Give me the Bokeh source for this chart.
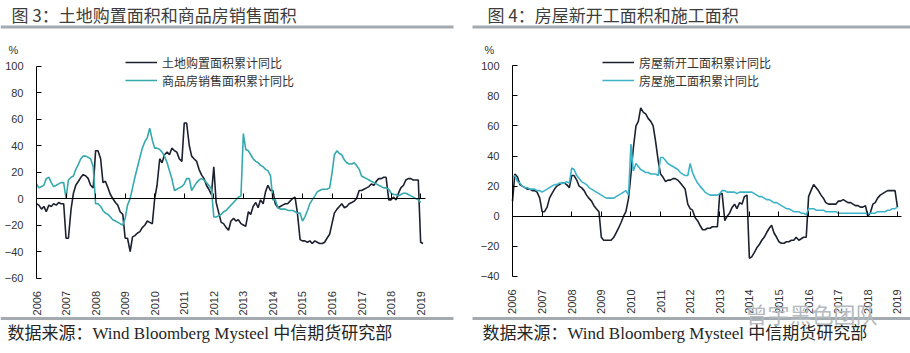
import math
from bokeh.plotting import figure
from bokeh.layouts import row
from bokeh.models import Range1d, FixedTicker, Legend, LegendItem, Label, BoxAnnotation, LinearAxis
from bokeh.embed import file_html
from bokeh.resources import INLINE

years = list(range(2006, 2020))

# ---------- Figure 3 data (decimal year, % yoy cumulative) ----------
land_t = [2006.0, 2006.08, 2006.17, 2006.25, 2006.33, 2006.42, 2006.5, 2006.58, 2006.67, 2006.75, 2006.83, 2006.92,
          2007.0, 2007.08, 2007.17, 2007.25, 2007.33, 2007.42, 2007.5, 2007.58, 2007.67, 2007.75, 2007.83, 2007.92,
          2008.0, 2008.08, 2008.17, 2008.25, 2008.33, 2008.42, 2008.5, 2008.58, 2008.67, 2008.75, 2008.83, 2008.92,
          2009.0, 2009.08, 2009.17, 2009.25, 2009.33, 2009.42, 2009.5, 2009.58, 2009.67, 2009.75, 2009.83, 2009.92,
          2010.0, 2010.08, 2010.17, 2010.25, 2010.33, 2010.42, 2010.5, 2010.58, 2010.67, 2010.75, 2010.83, 2010.92,
          2011.0, 2011.08, 2011.17, 2011.25, 2011.33, 2011.42, 2011.5, 2011.58, 2011.67, 2011.75, 2011.83, 2011.92,
          2012.0, 2012.08, 2012.17, 2012.25, 2012.33, 2012.42, 2012.5, 2012.58, 2012.67, 2012.75, 2012.83, 2012.92,
          2013.0, 2013.08, 2013.17, 2013.25, 2013.33, 2013.42, 2013.5, 2013.58, 2013.67, 2013.75, 2013.83, 2013.92,
          2014.0, 2014.08, 2014.17, 2014.25, 2014.33, 2014.42, 2014.5, 2014.58, 2014.67, 2014.75, 2014.83, 2014.92,
          2015.0, 2015.08, 2015.17, 2015.25, 2015.33, 2015.42, 2015.5, 2015.58, 2015.67, 2015.75, 2015.83, 2015.92,
          2016.0, 2016.08, 2016.17, 2016.25, 2016.33, 2016.42, 2016.5, 2016.58, 2016.67, 2016.75, 2016.83, 2016.92,
          2017.0, 2017.08, 2017.17, 2017.25, 2017.33, 2017.42, 2017.5, 2017.58, 2017.67, 2017.75, 2017.83, 2017.92,
          2018.0, 2018.08, 2018.17, 2018.25, 2018.33, 2018.42, 2018.5, 2018.58, 2018.67, 2018.75, 2018.83, 2018.92,
          2019.0, 2019.08]
land_v = [-4, -5, -8, -6, -10, -5, -6, -4, -5, -3, -4, -4,
          -30, -30, -8, 4, 10, 13, 16, 18, 17, 15, 10, 8,
          36, 36, 30, 12, 13, 8, 3, 0, -3, -5, -10, -12,
          -30, -30, -40, -29, -28, -26, -25, -22, -20, -17, -18, -19,
          0, 10, 30, 27, 33, 35, 33, 38, 36, 35, 30, 28,
          57, 57, 40, 32, 30, 28, 22, 18, 15, 10, 7, 3,
          24, -3, -11, -18, -19, -22, -24, -17, -15, -17, -16, -19,
          -20, -21, -10, -12, -6, -3, -7, -1, -4, 5, 10, 6,
          6, -4, -7, -6, -5, -4, -4, -2, 0, 1, -11, -31,
          -32, -32, -33, -32, -34, -32, -33, -34, -34, -33, -30, -27,
          -19, -11, -8, -6, -4, -7, -6, -4, -3, -2, 0, 6,
          6, 7, 8, 9, 11, 10, 13, 15, 15, 16, 16, -1,
          -1, 1, -1, 4, 8, 10, 14, 15, 15, 14, 14, 14,
          -33, -34]

sales_t = land_t[:-1]
sales_v = [11, 8, 9, 10, 15, 16, 12, 9, 10, 11, 12, 12,
           0, 14, 16, 17, 22, 26, 30, 32, 32, 31, 30, 24,
           -4, -4, -6, -9, -11, -12, -14, -16, -17, -18, -19, -20,
           -15, -5, 0, 8, 16, 24, 31, 38, 43, 46, 53, 44,
           38, 38, 37, 35, 32, 27, 21, 15, 6, 7, 8, 9,
           11, 15, 15, 6, 9, 12, 14, 15, 14, 12, 10, 7,
           -14, -14, -13, -12, -10, -9, -7, -5, -3, -1, 1, 2,
           49, 37, 36, 33, 30, 28, 27, 25, 24, 22, 21, 17,
           -1, -1, -7, -8, -8, -8, -9, -9, -9, -10, -11, -11,
           -17, -14, -9, -4, -1, 2, 5, 6, 7, 7, 7, 8,
           19, 33, 36, 34, 33, 29, 27, 26, 26, 27, 25, 22,
           17, 16, 15, 14, 13, 12, 11, 10, 9, 8, 8, 7,
           4, 3, 3, 2, 3, 4, 4, 3, 2, 1, 0, -1,
           -3]

# ---------- Figure 4 data ----------
starts_t = land_t[:-1]
starts_v = [10, 28, 26, 21, 20, 19, 18, 18, 17, 17, 16, 12,
            3, 3, 6, 12, 15, 18, 20, 21, 22, 22, 21, 19,
            27, 27, 24, 20, 19, 17, 14, 12, 10, 7, 5, 3,
            -14, -16, -16, -16, -16, -14, -11, -8, -4, 0, 3, 12,
            28, 45, 60, 63, 72, 69, 68, 65, 63, 60, 50, 37,
            28, 26, 23, 24, 24, 25, 25, 24, 22, 20, 18, 8,
            5, 4, -1, -3, -6, -9, -9, -8, -8, -7, -7, -7,
            15, 15, -3, 0, 2, 6, 8, 5, 9, 8, 13, 14,
            -28, -27, -24, -21, -19, -16, -14, -11, -8, -6, -11, -14,
            -17, -18, -18, -17, -17, -16, -16, -14, -16, -15, -14, -14,
            13, 17, 21, 19, 17, 14, 12, 9, 8, 8, 8, 8,
            10, 10, 11, 10, 9, 9, 8, 7, 7, 6, 6, 7,
            0, 2, 8, 9, 12, 14, 15, 16, 17, 17, 17, 17,
            6]

constr_t = land_t[:-1]
constr_v = [26, 27, 23, 22, 20, 19, 19, 18, 18, 18, 17, 17,
            16, 17, 18, 19, 20, 21, 21, 22, 22, 22, 23, 22,
            32, 31, 27, 25, 23, 22, 21, 19, 18, 17, 16, 15,
            14, 13, 12, 12, 12, 12, 13, 14, 15, 16, 17, 14,
            48, 30, 35, 33, 31, 30, 29, 29, 28, 28, 28, 27,
            39, 39, 37, 35, 34, 33, 32, 31, 29, 28, 27, 27,
            35, 29, 25, 22, 20, 18, 16, 15, 14, 14, 14, 14,
            15, 17, 17, 16, 16, 16, 16, 15, 16, 16, 16, 16,
            16, 16, 15, 14, 13, 13, 12, 11, 11, 10, 9, 9,
            8, 7, 6, 5, 5, 4, 3, 3, 3, 2, 2, 1,
            5, 5, 5, 4, 4, 4, 4, 3, 3, 3, 3, 3,
            2, 2, 2, 2, 2, 2, 2, 2, 2, 2, 2, 2,
            1.5, 2, 2, 2, 3, 3, 3, 3, 4, 4, 5, 5,
            6]

left_yticks = [-60, -40, -20, 0, 20, 40, 60, 80, 100]
right_yticks = [-40, -20, 0, 20, 40, 60, 80, 100]

title3 = "图 3：土地购置面积和商品房销售面积"
title4 = "图 4：房屋新开工面积和施工面积"
source = "数据来源：Wind Bloomberg Mysteel 中信期货研究部"
legend3 = ["土地购置面积累计同比", "商品房销售面积累计同比"]
legend4 = ["房屋新开工面积累计同比", "房屋施工面积累计同比"]
watermark = "曾宇黑色团队"

BLACK = "#1c2130"
TEAL_L = "#36a9ad"
TEAL_R = "#3cb3c8"
TXT = "#333333"
RULE = "#a3abb1"
CJK = "Noto Sans CJK SC"
NUM = "Liberation Sans"
SRC = "Liberation Serif, Noto Sans CJK SC"

W, H = 455, 353


def make_panel(ax_px, x_ppy, y_zero_px, y_ppu, ylo, yhi, yticks,
               t1, v1, t2, v2, c2, labels, leg_px, title, title_x, src_x, rule_x0, rule_x1,
               wm=False):
    # frame covers the whole figure; ranges are set so that 2006 sits at ax_px
    xs = 2006 - ax_px / x_ppy
    xe = 2006 + (W - ax_px) / x_ppy
    ye = y_zero_px / y_ppu
    ys = -(H - y_zero_px) / y_ppu

    p = figure(width=W, height=H, output_backend="svg", toolbar_location=None,
               min_border=0, x_range=Range1d(xs, xe), y_range=Range1d(ys, ye))
    p.outline_line_color = None
    p.grid.visible = False
    p.background_fill_color = "white"
    p.border_fill_color = "white"

    def dx(px):
        return xs + px / x_ppy

    def dy(py):
        return ye - py / y_ppu

    xa = p.xaxis[0]
    xa.fixed_location = ylo
    xa.ticker = FixedTicker(ticks=years)
    xa.major_label_orientation = math.pi / 2
    xa.axis_line_color = None
    xa.major_tick_line_color = None
    xa.minor_tick_line_color = None
    xa.major_label_standoff = 7
    xa.major_label_text_font = NUM
    xa.major_label_text_font_size = "11px"
    xa.major_label_text_color = TXT

    ya = p.yaxis[0]
    ya.fixed_location = 2006
    ya.bounds = (ylo, yhi)
    ya.ticker = FixedTicker(ticks=yticks)
    ya.axis_line_color = "black"
    ya.major_tick_in = 5
    ya.major_tick_out = 0
    ya.major_tick_line_color = "black"
    ya.minor_tick_line_color = None
    ya.major_label_standoff = 13
    ya.major_label_text_font = NUM
    ya.major_label_text_font_size = "11px"
    ya.major_label_text_color = TXT

    zero_ax = LinearAxis(fixed_location=0, bounds=(2006, 2019.15), ticker=FixedTicker(ticks=years),
                         axis_line_color="black", major_tick_in=5, major_tick_out=0,
                         major_tick_line_color="black", minor_tick_line_color=None,
                         major_label_text_alpha=0, major_label_text_font_size="1px")
    p.add_layout(zero_ax, "below")

    r1 = p.line(t1, v1, line_color=BLACK, line_width=1.6)
    r2 = p.line(t2, v2, line_color=c2, line_width=1.6)

    leg = Legend(items=[LegendItem(label=labels[0], renderers=[r1]),
                        LegendItem(label=labels[1], renderers=[r2])],
                 location=(leg_px[0], H - leg_px[1] - 36), orientation="vertical",
                 glyph_width=32, glyph_height=18,
                 label_height=18, spacing=0, padding=0, margin=0, label_standoff=5,
                 border_line_color=None, background_fill_alpha=0,
                 label_text_font=CJK, label_text_font_size="12px", label_text_color=TXT)
    p.add_layout(leg)

    def lab(px, py, text, font, size, color, align="left"):
        p.add_layout(Label(x=dx(px), y=dy(py), text=text, text_align=align, text_baseline="middle",
                           text_font=font, text_font_size=size, text_color=color))

    lab(ax_px - 23, 49, "%", NUM, "11px", TXT, "center")
    lab(title_x, 14, title, CJK, "17px", "#3d3d3d")
    lab(src_x, 333, source, SRC, "17px", "#262626")
    for y0, y1 in ((25, 28), (316.5, 319.5)):
        p.add_layout(BoxAnnotation(left=dx(rule_x0), right=dx(rule_x1), top=dy(y0), bottom=dy(y1),
                                   fill_color=RULE, fill_alpha=1, line_color=None))
    if wm:
        lab(290, 312, watermark, CJK, "22px", "#b4babf")
    return p


p1 = make_panel(36, 29.55, 198, 1.325, -60, 100, left_yticks,
                land_t, land_v, sales_t, sales_v, TEAL_L, legend3, (125, 53),
                title3, 11, 7, 0, 453)
p2 = make_panel(57, 29.61, 215.7, 1.505, -40, 100, right_yticks,
                starts_t, starts_v, constr_t, constr_v, TEAL_R, legend4, (147, 53),
                title4, 32, 27, 17, 455, wm=True)

layout = row(p1, p2)
open("out.html", "w").write(file_html(layout, INLINE))
